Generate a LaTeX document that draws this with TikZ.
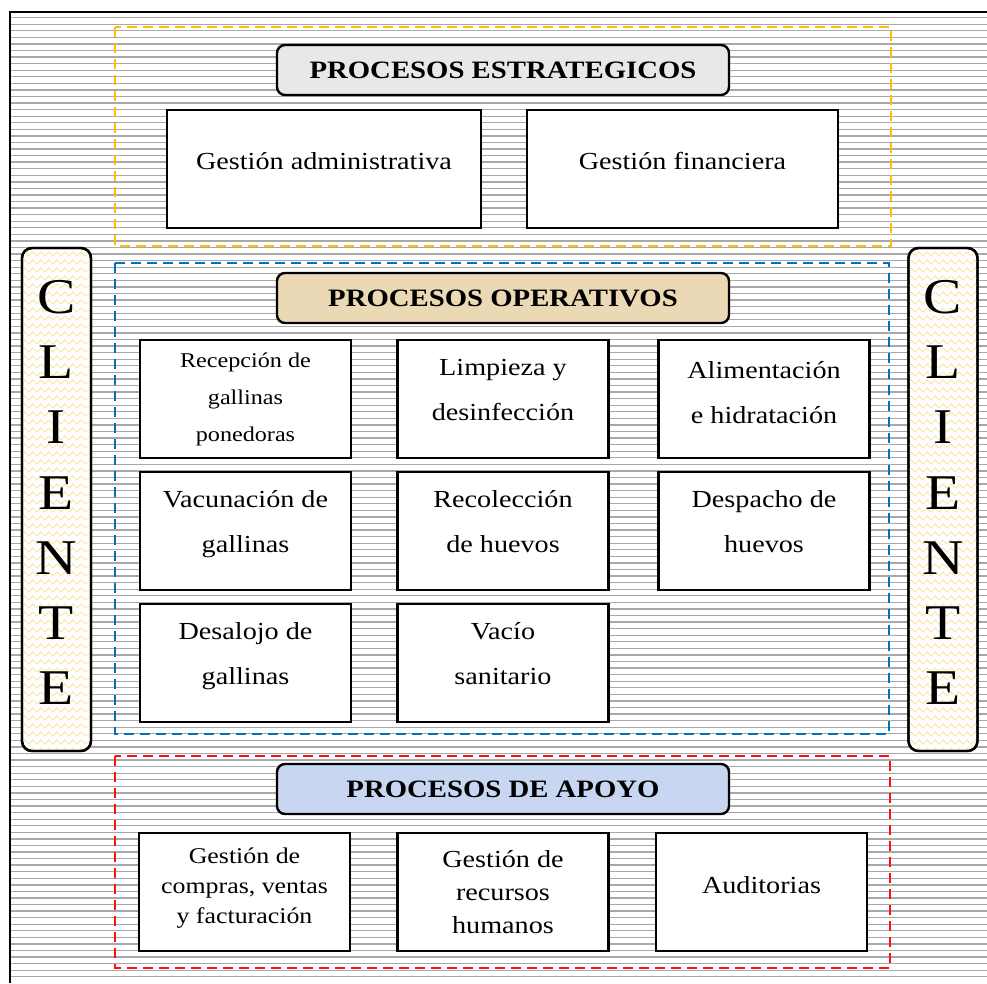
\documentclass[tikz,border=0pt]{standalone}
\usepackage{fontspec}
\setmainfont{Liberation Serif}[FakeStretch=1.15]
\usetikzlibrary{decorations.pathmorphing}
\definecolor{amarillo}{HTML}{FFC000}
\definecolor{azul}{HTML}{0070C0}
\definecolor{rojo}{HTML}{FF1010}
\definecolor{marmol}{HTML}{E8E8E8}
\definecolor{arena}{HTML}{EAD9B4}
\definecolor{lila}{HTML}{C9D6F2}
\definecolor{zigzag}{HTML}{FFE3A6}
\definecolor{raya}{HTML}{A8A8A8}
\tikzset{
  caja/.style = {draw=black, line width=2.4pt, fill=white, align=center,
    inner sep=0pt, minimum width=211pt, minimum height=118pt},% proceso
  subir/.style = {text depth=#1},% sube el texto en la caja
  titulo/.style = {draw=black, line width=2.4pt, rounded corners=8pt,
    minimum width=452pt, minimum height=50pt,
    font=\fontsize{25}{30}\selectfont\bfseries},% nombre del grupo
  cliente/.style = {draw=black, line width=2.4pt, rounded corners=10pt,
    fill=white, minimum width=69pt, minimum height=503pt},
  letras/.style = {align=center, inner sep=0pt,
    font=\fontsize{50}{65.2}\selectfont},
  grupo/.style = {dash pattern=on 10pt off 6pt, line width=2.2pt},
  grande/.style = {font=\fontsize{24.5}{45}\selectfont}
}
\begin{document}
\begin{tikzpicture}[x=1pt,y=-1pt]
  \useasboundingbox (0,0) rectangle (987,983);
  \fill[white] (0,0) rectangle (987,983);
  \foreach \y in {17.6,24.17,...,983}
    \draw[raya, line width=1.3pt] (10,\y) -- (987,\y);
  \draw[line width=2.4pt] (10,983) -- (10,12) -- (987,12);

  % grupos
  \draw[grupo, amarillo] (115,27) rectangle (891,246);
  \draw[grupo, azul] (115,263) rectangle (889,734);
  \draw[grupo, rojo] (115,756) rectangle (890,968);

  % estrategicos
  \node[titulo, fill=marmol] (tEst) at (503,70) {PROCESOS ESTRATEGICOS};
  \node[caja, grande, minimum width=314pt, subir=16pt] (gesAdm) at (324,169)
    {Gestión administrativa};
  \node[caja, grande, minimum width=311pt, subir=16pt] (gesFin) at (682.5,169)
    {Gestión financiera};

  % operativos
  \node[titulo, fill=arena] (tOpe) at (503,298) {PROCESOS OPERATIVOS};
  \node[caja, font=\fontsize{21}{37}\selectfont] (recep) at (245.5,399)
    {Recepción de\\gallinas\\ponedoras};
  \node[caja, grande, subir=19pt] (limp) at (503,399) {Limpieza y\\desinfección};
  \node[caja, grande, subir=14pt] (alim) at (764,399)
    {Alimentación\\e hidratación};
  \node[caja, grande, subir=19pt] (vacun) at (245.5,531) {Vacunación de\\gallinas};
  \node[caja, grande, subir=19pt] (recol) at (503,531) {Recolección\\de huevos};
  \node[caja, grande, subir=19pt] (desp) at (764,531) {Despacho de\\huevos};
  \node[caja, grande, subir=19pt] (desal) at (245.5,663) {Desalojo de\\gallinas};
  \node[caja, grande, subir=19pt] (vacio) at (503,663) {Vacío\\sanitario};

  % apoyo
  \node[titulo, fill=lila] (tApo) at (503,789) {PROCESOS DE APOYO};
  \node[caja, font=\fontsize{22.5}{30}\selectfont, subir=13pt] (compr) at (244.5,892)
    {Gestión de\\compras, ventas\\y facturación};
  \node[caja, font=\fontsize{24.5}{33}\selectfont] (rrhh) at (503,892)
    {Gestión de\\recursos\\humanos};
  \node[caja, grande, subir=14pt] (audit) at (761.5,892) {Auditorias};

  % cliente
  \node[cliente] (cliIzq) at (56.5,499.5) {};
  \node[cliente] (cliDer) at (943,499.5) {};
  \foreach \xa/\xb in {23/90, 909/977}{
    \begin{scope}
      \clip[rounded corners=9pt] (\xa,249) rectangle (\xb,750);
      \foreach \y in {254,262,...,750}
        \draw[zigzag, line width=0.8pt, decorate,
          decoration={zigzag, segment length=8pt, amplitude=2pt}]
          (\xa,\y) -- (\xb,\y);
    \end{scope}
  }
  \draw[line width=2.4pt, rounded corners=10pt] (22,248) rectangle (91,751);
  \draw[line width=2.4pt, rounded corners=10pt] (908.5,248) rectangle (977.5,751);
  \node[letras] (letIzq) at (56.5,492.5) {C\\L\\I\\E\\N\\T\\E};
  \node[letras] (letDer) at (943,492.5) {C\\L\\I\\E\\N\\T\\E};
\end{tikzpicture}
\end{document}
